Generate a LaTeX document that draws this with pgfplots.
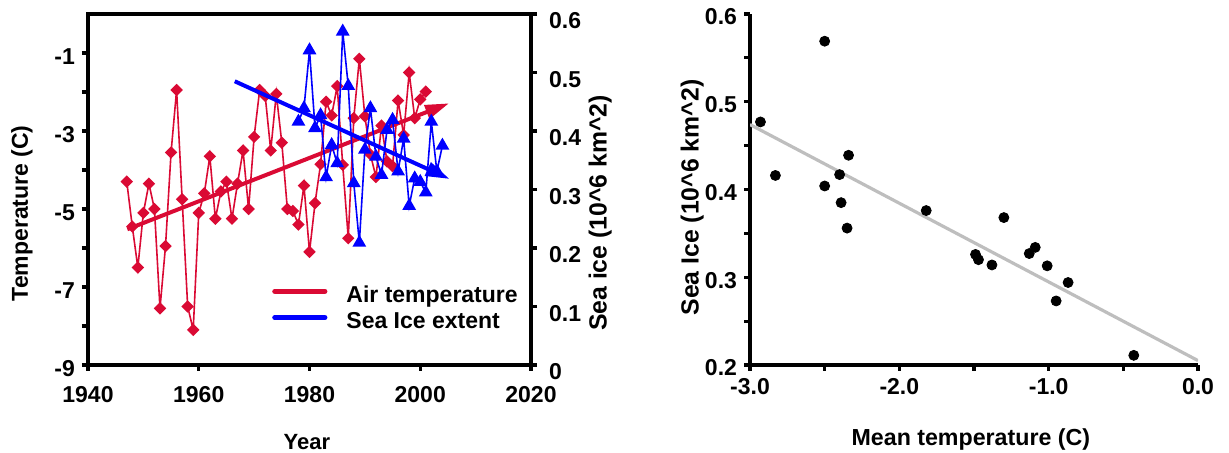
\documentclass[border=0pt]{standalone}
\usepackage{pgfplots}
\pgfplotsset{compat=1.18}
\usepackage{pgfplotstable}
\usepackage{fontspec}
\setmainfont{Liberation Sans}
\usetikzlibrary{arrows.meta}
\definecolor{airred}{RGB}{218,10,52}
\definecolor{iceblue}{RGB}{0,0,255}
\definecolor{fitgray}{RGB}{190,190,190}

\pgfplotstableread{
year temp
1947 -4.30
1948 -5.45
1949 -6.50
1950 -5.10
1951 -4.35
1952 -5.00
1953 -7.55
1954 -5.95
1955 -3.55
1956 -1.95
1957 -4.75
1958 -7.50
1959 -8.10
1960 -5.10
1961 -4.60
1962 -3.65
1963 -5.25
1964 -4.55
1965 -4.30
1966 -5.25
1967 -4.35
1968 -3.50
1969 -5.00
1970 -3.15
1971 -1.95
1972 -2.10
1973 -3.50
1974 -2.05
1975 -3.30
1976 -5.00
1977 -5.05
1978 -5.40
1979 -4.40
1980 -6.10
1981 -4.85
1982 -3.85
1983 -2.25
1984 -2.60
1985 -1.85
1986 -3.87
1987 -5.75
1988 -2.67
1989 -1.15
1990 -2.62
1991 -3.60
1992 -4.18
1993 -2.86
1994 -3.78
1995 -3.90
1996 -2.22
1997 -3.10
1998 -1.50
1999 -2.67
2000 -2.19
2001 -1.99
}\airdata

\pgfplotstableread{
year ice
1978 0.416
1979 0.439
1980 0.538
1981 0.405
1982 0.427
1983 0.321
1984 0.376
1985 0.345
1986 0.570
1987 0.477
1988 0.311
1989 0.209
1990 0.368
1991 0.439
1992 0.356
1993 0.325
1994 0.402
1995 0.419
1996 0.331
1997 0.387
1998 0.272
1999 0.319
2000 0.313
2001 0.295
2002 0.416
2003 0.331
2004 0.375
}\icedata

\pgfplotstableread{
t ice
-2.93 0.477
-2.83 0.416
-2.50 0.569
-2.50 0.404
-2.40 0.417
-2.34 0.439
-2.39 0.385
-2.35 0.356
-1.82 0.376
-1.30 0.368
-1.49 0.326
-1.47 0.320
-1.38 0.314
-1.13 0.327
-1.09 0.334
-1.01 0.313
-0.87 0.294
-0.95 0.273
-0.43 0.211
}\scatterdata

\pgfplotsset{
  mystyle/.style={
    scale only axis,
    axis line style={line width=1.6pt},
    every tick/.style={line width=1.6pt, black},
    major tick length=3pt,
    tick align=outside,
    tick label style={font=\fontsize{11.5}{13}\selectfont\bfseries},
  }
}

\begin{document}
\begin{tikzpicture}
\useasboundingbox (0,0) rectangle (614.5pt,226.5pt);

% left: air temperature
\begin{axis}[mystyle,
  at={(44pt,44pt)}, anchor=south west,
  width=221.5pt, height=175.5pt,
  xmin=1940, xmax=2020, ymin=-9, ymax=0,
  xtick={1940,1960,1980,2000,2020},
  xticklabels={1940,1960,1980,2000,2020},
  ytick={-9,-8,-7,-6,-5,-4,-3,-2,-1},
  yticklabels={-9,,-7,,-5,,-3,,-1},
  xticklabel style={yshift=-4pt},
  yticklabel style={yshift=-2pt},
  xtick pos=bottom, ytick pos=left,
  xlabel={Year}, ylabel={Temperature (C)},
  every axis x label/.style={at={(axis description cs:0.494,-0.240)}, anchor=base, inner sep=0pt, font=\fontsize{11}{13}\selectfont\bfseries},
  every axis y label/.style={at={(axis description cs:-0.149,0.432)}, rotate=90, anchor=center, font=\fontsize{11.5}{13}\selectfont\bfseries},
]
\addplot[airred, line width=0.8pt, mark=square*, mark size=1.8pt, mark options={rotate=45, solid}] table[x=year, y=temp] {\airdata};
\addplot[airred, line width=2pt, -{Triangle[length=12pt,width=7pt]}] coordinates {(1947.1,-5.52) (2005.2,-2.29)};
\end{axis}

% left: sea ice (secondary axis)
\begin{axis}[mystyle,
  at={(44pt,44pt)}, anchor=south west,
  width=221.5pt, height=175.5pt,
  xmin=1940, xmax=2020, ymin=0, ymax=0.6,
  axis x line=none, axis y line*=right,
  ytick={0,0.1,0.2,0.3,0.4,0.5,0.6},
  yticklabels={0,0.1,0.2,0.3,0.4,0.5,0.6},
  yticklabel style={yshift=-3.5pt, xshift=2.5pt},
  ylabel={Sea ice (10\textasciicircum 6 km\textasciicircum 2)},
  every axis y label/.style={at={(axis description cs:1.156,0.433)}, rotate=90, anchor=center, font=\fontsize{12.4}{14}\selectfont\bfseries},
  legend image code/.code={\draw[#1, line width=2.6pt, line cap=round] (0pt,2.2pt) -- (25pt,2.2pt);},
  legend cell align=left,
  legend style={draw=none, fill=none, at={(0.415,0.2295)}, anchor=north west, inner sep=0pt, row sep=2.5pt,
    font=\fontsize{11.5}{13}\selectfont\bfseries,
    nodes={inner sep=0.5pt},
    /tikz/every odd column/.append style={column sep=9pt}},
]
\addplot[iceblue, line width=0.8pt, mark=triangle*, mark size=3.2pt, mark options={solid}, forget plot] table[x=year, y=ice] {\icedata};
\addplot[iceblue, line width=2pt, -{Triangle[length=12pt,width=7pt]}, forget plot] coordinates {(1966.5,0.485) (2005.3,0.318)};
\addlegendimage{airred}
\addlegendentry{Air temperature}
\addlegendimage{iceblue}
\addlegendentry{Sea Ice extent}
\end{axis}

% right: scatter
\begin{axis}[mystyle,
  at={(375pt,44pt)}, anchor=south west,
  width=224pt, height=175.5pt,
  xmin=-3, xmax=0, ymin=0.2, ymax=0.6,
  axis lines*=left,
  xtick={-3,-2.5,-2,-1.5,-1,-0.5,0},
  xticklabels={-3.0,,-2.0,,-1.0,,0.0},
  ytick={0.2,0.25,0.3,0.35,0.4,0.45,0.5,0.55,0.6},
  yticklabels={0.2,,0.3,,0.4,,0.5,,0.6},
  yticklabel style={yshift=-1.5pt},
  xlabel={Mean temperature (C)},
  ylabel={Sea Ice (10\textasciicircum 6 km\textasciicircum 2)},
  every axis x label/.style={at={(axis description cs:0.493,-0.228)}, anchor=base, font=\fontsize{11.6}{13}\selectfont\bfseries},
  every axis y label/.style={at={(axis description cs:-0.129,0.477)}, rotate=90, anchor=center, font=\fontsize{12.4}{14}\selectfont\bfseries},
]
\addplot[fitgray, line width=1.6pt] coordinates {(-3,0.474) (0,0.205)};
\addplot[only marks, mark=*, mark size=2.5pt, black] table[x=t, y=ice] {\scatterdata};
\end{axis}
\end{tikzpicture}
\end{document}
